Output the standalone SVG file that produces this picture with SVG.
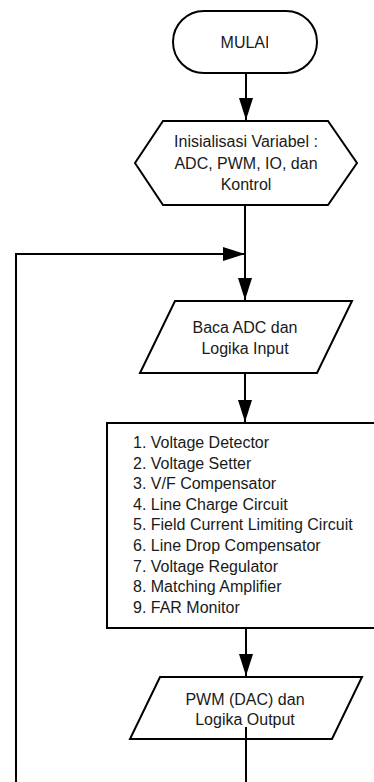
<svg xmlns="http://www.w3.org/2000/svg" width="374" height="782" viewBox="0 0 374 782">
<style>
.shape{fill:#fff;stroke:#000;stroke-width:2;stroke-linejoin:miter}
.line{fill:none;stroke:#000;stroke-width:2}
text{font-family:"Liberation Sans",Arial,sans-serif;font-size:16px;fill:#1a1a1a}
.c{text-anchor:middle}
</style>
<defs>
<marker id="arr" markerWidth="22" markerHeight="14" refX="22" refY="7" orient="auto" markerUnits="userSpaceOnUse">
<path d="M0,0 L22,7 L0,14 Z" fill="#000"/>
</marker>
<clipPath id="clipStart"><rect x="170" y="0" width="98" height="80"/></clipPath>
<clipPath id="clipInit"><rect x="160" y="120" width="157" height="86"/></clipPath>
</defs>
<rect width="374" height="782" fill="#fff"/>
<g id="connectors">
<line class="line" x1="246" y1="73" x2="246" y2="120" marker-end="url(#arr)"/>
<line class="line" x1="245" y1="205" x2="245" y2="300" marker-end="url(#arr)"/>
<polyline class="line" points="16,782 16,254 245,254" marker-end="url(#arr)"/>
<line class="line" x1="245" y1="373" x2="245" y2="422" marker-end="url(#arr)"/>
<line class="line" x1="246" y1="628" x2="246" y2="676" marker-end="url(#arr)"/>
</g>
<g id="start">
<rect class="shape" x="173" y="11" width="144" height="62" rx="31" ry="31"/>
<text class="c" x="245" y="48" clip-path="url(#clipStart)">MULAI</text>
</g>
<g id="init">
<polygon class="shape" points="163,121 328,121 357,163 328,205 163,205 135,163"/>
<g clip-path="url(#clipInit)">
<text class="c" x="246" y="147">Inisialisasi Variabel :</text>
<text class="c" x="246" y="169">ADC, PWM, IO, dan</text>
<text class="c" x="246" y="190">Kontrol</text>
</g>
</g>
<g id="read">
<polygon class="shape" points="175,301 352,301 317,373 140,373"/>
<text class="c" x="245" y="333">Baca ADC dan</text>
<text class="c" x="245" y="354">Logika Input</text>
</g>
<g id="process">
<rect class="shape" x="107" y="423" width="300" height="205"/>
<text x="133" y="448">1. Voltage Detector</text>
<text x="133" y="468.6">2. Voltage Setter</text>
<text x="133" y="489.2">3. V/F Compensator</text>
<text x="133" y="509.8">4. Line Charge Circuit</text>
<text x="133" y="530.4">5. Field Current Limiting Circuit</text>
<text x="133" y="551">6. Line Drop Compensator</text>
<text x="133" y="571.6">7. Voltage Regulator</text>
<text x="133" y="592.2">8. Matching Amplifier</text>
<text x="133" y="612.8">9. FAR Monitor</text>
</g>
<g id="output">
<polygon class="shape" points="160,677 362,677 332,739 130,739"/>
<text class="c" x="245" y="705">PWM (DAC) dan</text>
<text class="c" x="245" y="725">Logika Output</text>
</g>
<g id="connectors-out">
<line class="line" x1="246" y1="727" x2="246" y2="782"/>
</g>
</svg>
